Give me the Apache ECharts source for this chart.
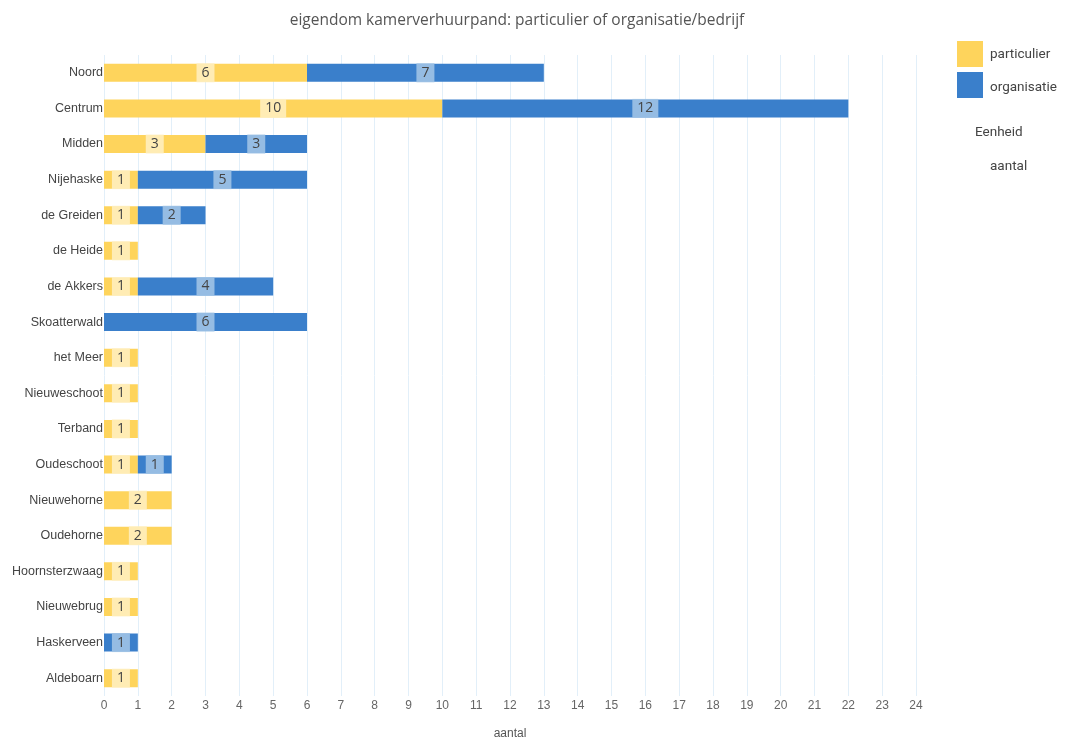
<!DOCTYPE html>
<html><head><meta charset="utf-8">
<script src="https://cdn.jsdelivr.net/npm/echarts@6/dist/echarts.min.js"></script>
<style>html,body{margin:0;padding:0;background:#fff}#c{width:1066px;height:740px}</style>
</head><body><div id="c"></div>
<script>
const categories = ['Noord','Centrum','Midden','Nijehaske','de Greiden','de Heide','de Akkers','Skoatterwald','het Meer','Nieuweschoot','Terband','Oudeschoot','Nieuwehorne','Oudehorne','Hoornsterzwaag','Nieuwebrug','Haskerveen','Aldeboarn'];
const particulier = [6,10,3,1,1,1,1,null,1,1,1,1,2,2,1,1,null,1];
const organisatie = [7,12,3,5,2,null,4,6,null,null,null,1,null,null,null,null,1,null];
const xTicks = {min:0, max:24, interval:1};

const chart = echarts.init(document.getElementById('c'));
const lbl = (bg) => ({show:true, position:'inside', color:'#444', fontSize:14, fontFamily:'Open Sans',
  backgroundColor:bg, padding:[1,5,0,5], lineHeight:18});
chart.setOption({
  animation:false,
  title:{text:'eigendom kamerverhuurpand: particulier of organisatie/bedrijf', left:512, top:8, textAlign:'center',
    textStyle:{fontFamily:'Open Sans', fontSize:15.5, fontWeight:'normal', color:'#555'}},
  legend:{show:false},
  grid:{left:104, right:150, top:55, bottom:44, containLabel:false, outerBoundsMode:'none'},
  xAxis:{type:'value', min:xTicks.min, max:xTicks.max, interval:xTicks.interval,
    name:'aantal', nameLocation:'middle', nameGap:32,
    nameTextStyle:{color:'#555', fontSize:12, fontFamily:'Liberation Sans'},
    axisLine:{show:false}, axisTick:{show:false},
    axisLabel:{color:'#666', fontSize:12, fontFamily:'Liberation Sans', margin:4},
    splitLine:{show:true, lineStyle:{color:'#e2eff9', width:1}}},
  yAxis:{type:'category', data:categories, inverse:true,
    axisLine:{show:false}, axisTick:{show:false},
    axisLabel:{color:'#444', fontSize:12.5, fontFamily:'Liberation Sans', margin:1}},
  series:[
    {name:'particulier', type:'bar', stack:'t', data:particulier, barWidth:18,
     itemStyle:{color:'#FED45C'}, label:lbl('rgba(255,240,195,0.85)')},
    {name:'organisatie', type:'bar', stack:'t', data:organisatie, barWidth:18,
     itemStyle:{color:'#3A7FCB'}, label:lbl('rgba(160,195,230,0.9)')}
  ],
  graphic:[
    {type:'rect', shape:{x:957,y:41,width:26,height:26}, style:{fill:'#FED45C'}},
    {type:'rect', shape:{x:957,y:72,width:26,height:26}, style:{fill:'#3A7FCB'}},
    {type:'text', x:990, y:55, style:{text:'particulier', fill:'#444', font:'13.5px Roboto', textVerticalAlign:'middle'}},
    {type:'text', x:990, y:88, style:{text:'organisatie', fill:'#444', font:'13.5px Roboto', textVerticalAlign:'middle'}},
    {type:'text', x:975, y:133, style:{text:'Eenheid', fill:'#444', font:'13.5px Roboto', textVerticalAlign:'middle'}},
    {type:'text', x:990, y:167, style:{text:'aantal', fill:'#444', font:'13.5px Roboto', textVerticalAlign:'middle'}}
  ]
});
</script></body></html>
